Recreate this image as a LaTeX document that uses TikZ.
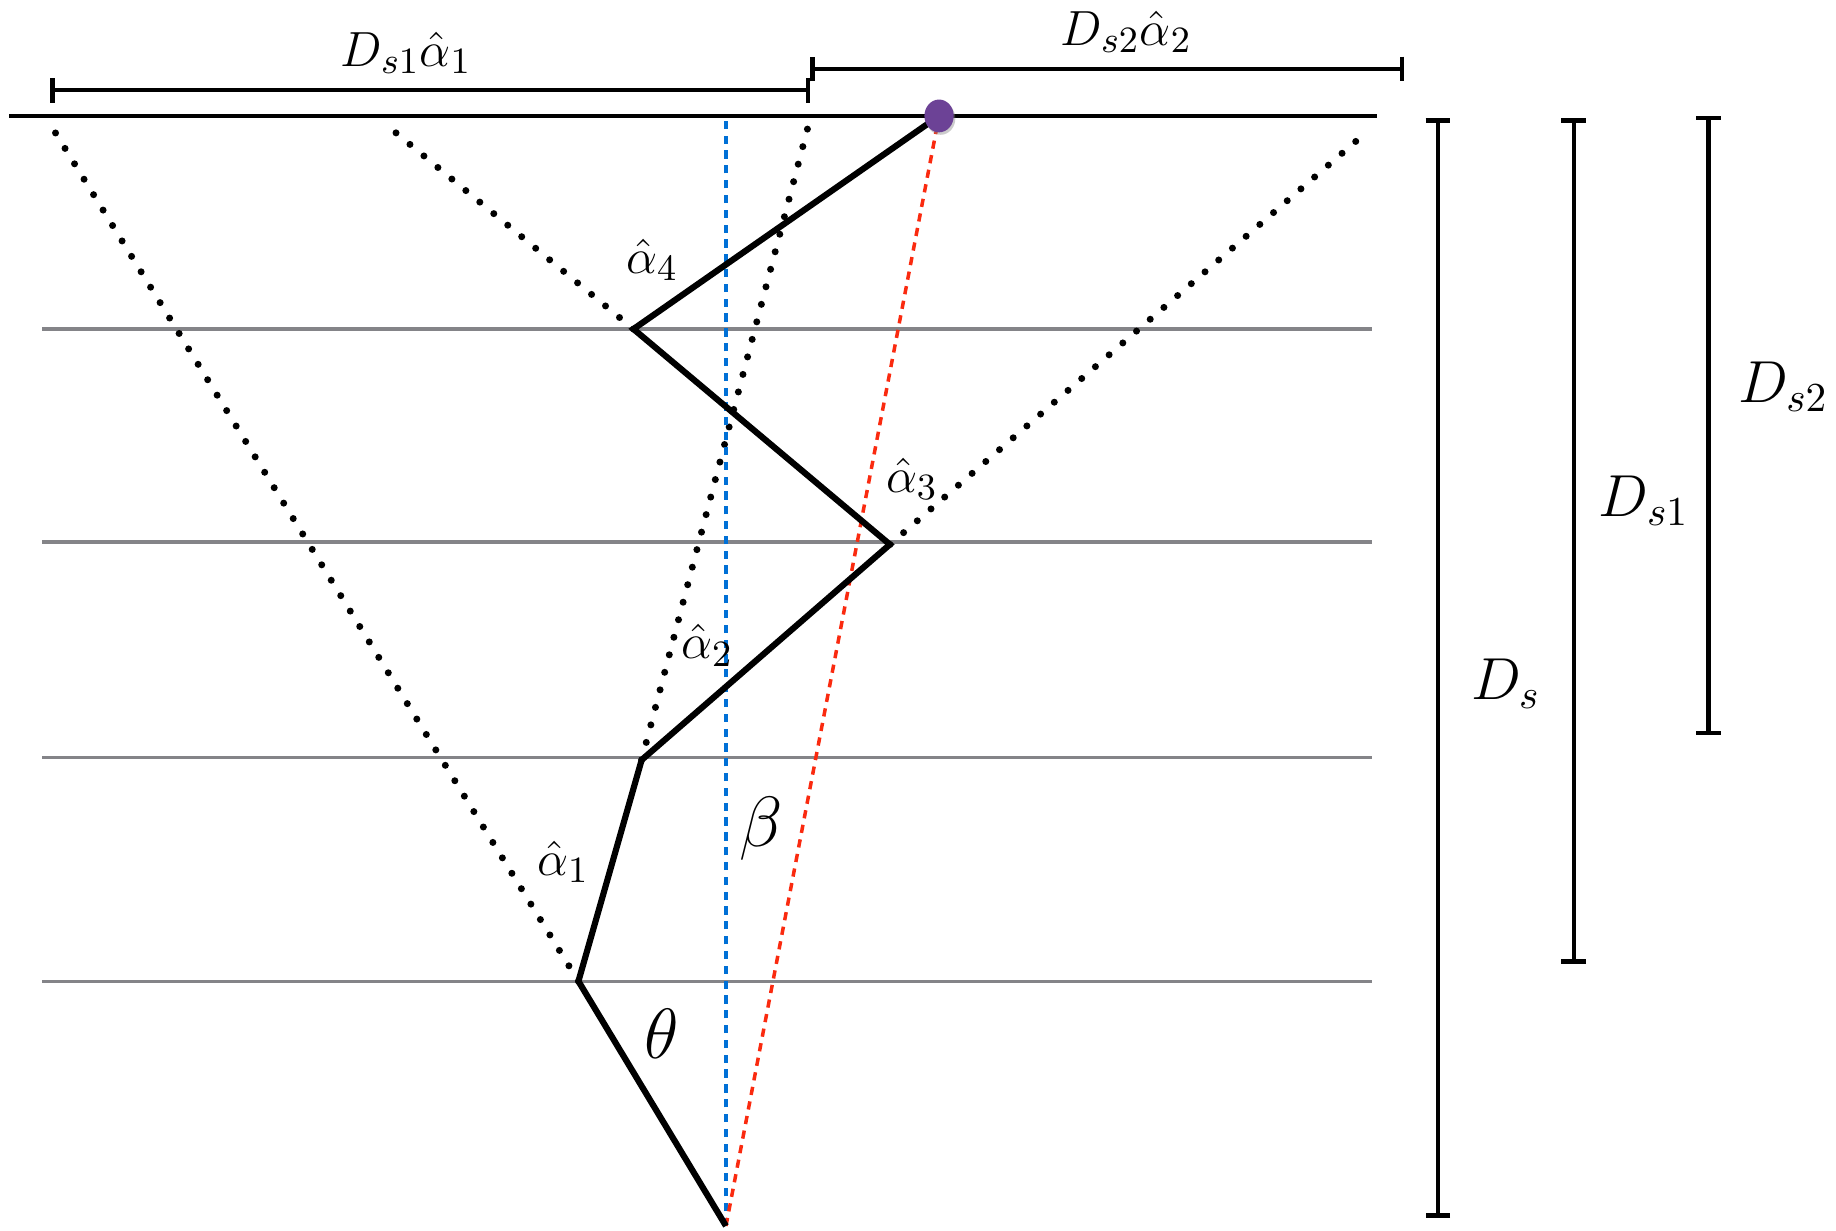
\documentclass[tikz,border=0pt]{standalone}
\usepackage{amsmath}
\usetikzlibrary{arrows.meta, shadows, shapes.geometric}
\definecolor{srcpurple}{RGB}{108,66,150}
\definecolor{axisblue}{RGB}{0,112,214}
\definecolor{chordred}{RGB}{250,42,15}
\definecolor{planegray}{RGB}{132,132,136}

\begin{document}
\begin{tikzpicture}[
    x=0.01cm, y=-0.01cm,
    every node/.style={font=\fontsize{13}{15}\selectfont},
    dist/.style={font=\fontsize{14}{16}\selectfont},
    plane/.style={planegray, line width=0.8pt},
    ray/.style={line width=1.5pt, line join=miter},
    ghost/.style={line width=1.7pt, line cap=round, dash pattern=on 0pt off 4.4pt},
    axis/.style={axisblue, line width=0.85pt, dash pattern=on 2pt off 1.6pt},
    chord/.style={chordred, line width=0.85pt, dash pattern=on 2pt off 1.6pt},
    span/.style={line width=1.05pt, {Bar[width=6pt]}-{Bar[width=6pt]}}
]
    \useasboundingbox (0,0) rectangle (1568,1051);

    % lens planes
    \foreach \y in {281,463,647,838}
        \draw[plane] (36,\y) -- (1172,\y);

    % deflection points
    \coordinate (obs) at (620,1047);
    \coordinate (p1) at (494,838);
    \coordinate (p2) at (548,649);
    \coordinate (p3) at (760,465);
    \coordinate (p4) at (541,281);
    \coordinate (src) at (802,99);

    % unlensed directions
    \coordinate (g1) at (44,108);
    \coordinate (g2) at (692,101);
    \coordinate (g3) at (1168,112);
    \coordinate (g4) at (334,110);
    \draw[ghost] (p1) -- (g1);
    \draw[ghost] (p2) -- (g2);
    \draw[ghost] (p3) -- (g3);
    \draw[ghost] (p4) -- (g4);

    \draw[axis] (obs) -- (620,99);
    \draw[chord] (obs) -- (src);
    \draw[ray] (obs) -- (p1) -- (p2) -- (p3) -- (p4) -- (src);

    % source plane
    \draw[line width=1pt] (8,99) -- (1176,99);
    \node[ellipse, fill=srcpurple, inner sep=0pt, minimum width=0.25cm, minimum height=0.28cm,
          drop shadow={shadow xshift=0.4pt, shadow yshift=-0.6pt, opacity=0.4}] (dot) at (src) {};

    % angles
    \node (a4) at (557,222) {$\hat\alpha_4$};
    \node (a3) at (779,409) {$\hat\alpha_3$};
    \node (a2) at (604,551) {$\hat\alpha_2$};
    \node (a1) at (481,736) {$\hat\alpha_1$};
    \node[font=\fontsize{17}{20}\selectfont] (beta) at (650,708) {$\beta$};
    \node[font=\fontsize{17}{20}\selectfont] (theta) at (565,883) {$\theta$};

    % distances
    \draw[span] (43,77) -- (692,77);
    \draw[span] (692,59) -- (1199,59);
    \node (ds1a1) at (347,45) {$D_{s1}\hat\alpha_1$};
    \node (ds2a2) at (962,27) {$D_{s2}\hat\alpha_2$};
    \draw[span] (1228,101) -- (1228,1040);
    \draw[span] (1344,101) -- (1344,823);
    \draw[span] (1459,99) -- (1459,628);
    \node[dist] (ds) at (1286,584) {$D_s$};
    \node[dist] (ds1) at (1404,428) {$D_{s1}$};
    \node[dist] (ds2) at (1523,330) {$D_{s2}$};
\end{tikzpicture}
\end{document}
